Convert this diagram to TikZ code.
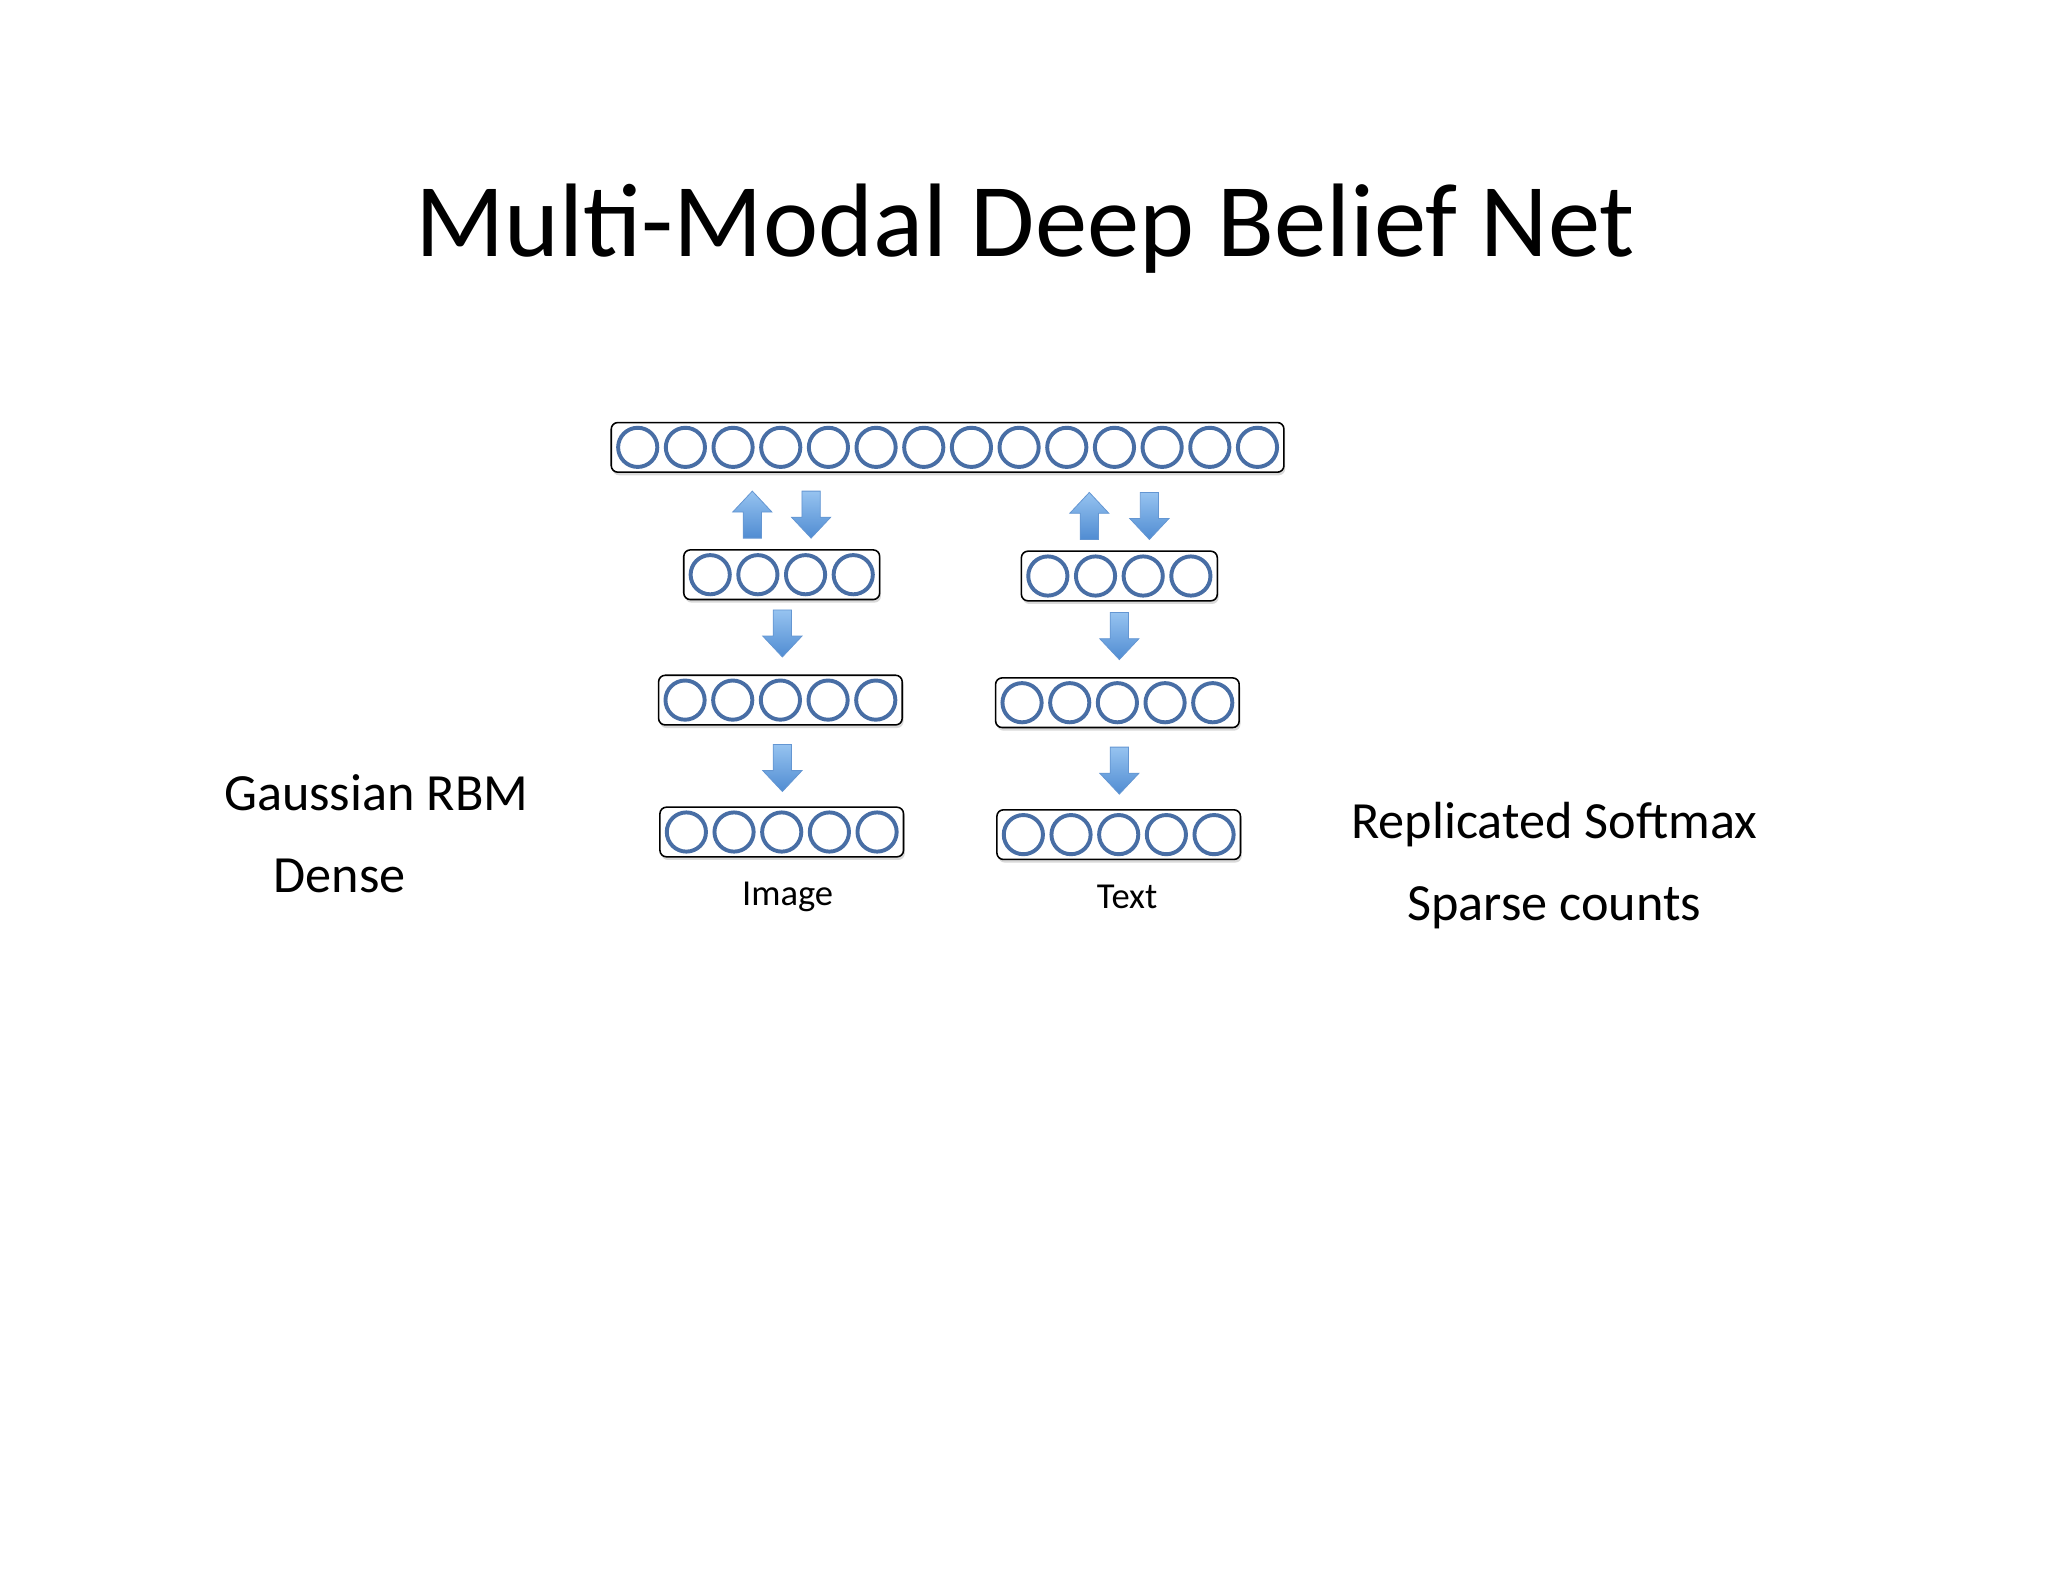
\documentclass[tikz,border=0pt]{standalone}
\usepackage{fontspec}
\setmainfont{Carlito}
\usetikzlibrary{shadows}
\newcommand\mylayer[4]{% name, x, y, n
  \node[layer, minimum width={(#4*36.5+4)*0.5pt}] (#1) at (#2,#3) {};
  \foreach \i in {1,...,#4}{
    \node[unit] (#1-\i) at ({#2+(\i-(#4+1)/2)*36.5},#3) {};
  }}
\newcommand\mydownarr[3]{% name x ytop
  \path[barrow] (#2-7,#3)--(#2+7,#3)--(#2+7,#3+20)--(#2+15,#3+20)--(#2,#3+36)--(#2-15,#3+20)--(#2-7,#3+20)--cycle;
  \coordinate (#1) at (#2,#3+18);}
\newcommand\myuparr[3]{% name x ybottom
  \path[barrow] (#2-7,#3)--(#2+7,#3)--(#2+7,#3-20)--(#2+15,#3-20)--(#2,#3-36)--(#2-15,#3-20)--(#2-7,#3-20)--cycle;
  \coordinate (#1) at (#2,#3-18);}
\begin{document}
\begin{tikzpicture}[x=0.5pt,y=-0.5pt,
  layer/.style={draw=black, line width=0.6pt, rounded corners=2.5pt, fill=white,
     minimum height=19pt, inner sep=0pt, drop shadow={shadow xshift=0.5pt, shadow yshift=-1.2pt, opacity=0.3}},
  unit/.style={circle, draw={rgb,255:red,72;green,110;blue,165}, line width=1.5pt, minimum size=15pt, inner sep=0pt},
  barrow/.style={top color={rgb,255:red,150;green,195;blue,240}, bottom color={rgb,255:red,80;green,140;blue,210},
     draw={rgb,255:red,100;green,150;blue,210}, line width=0.3pt},
  lbl/.style={font=\fontsize{20pt}{24pt}\selectfont},
  sml/.style={font=\fontsize{14pt}{17pt}\selectfont}]
\useasboundingbox (0,0) rectangle (1568,1211);
\node[font=\fontsize{40pt}{48pt}\selectfont] (title) at (785,175) {Multi-Modal Deep Belief Net};
\mylayer{top}{725.5}{342.5}{14}
\mylayer{l1}{598.5}{440}{4}
\mylayer{l2}{597.5}{536}{5}
\mylayer{l3}{598.5}{637}{5}
\mylayer{r1}{857}{441}{4}
\mylayer{r2}{855.5}{538}{5}
\mylayer{r3}{856.5}{639}{5}
\myuparr{aul}{576}{412}
\mydownarr{adl}{621}{376}
\myuparr{aur}{834}{413}
\mydownarr{adr}{880}{377}
\mydownarr{al2}{599}{467}
\mydownarr{al3}{599}{570}
\mydownarr{ar2}{857}{469}
\mydownarr{ar3}{857}{572}
\node[lbl] (g) at (288,607) {Gaussian RBM};
\node[lbl] (d) at (260,671) {Dense};
\node[sml] (im) at (603,687) {Image};
\node[sml] (tx) at (863,687) {Text};
\node[lbl] (rs) at (1190,631) {Replicated Softmax};
\node[lbl] (sc) at (1190,695) {Sparse counts};
\end{tikzpicture}
\end{document}
